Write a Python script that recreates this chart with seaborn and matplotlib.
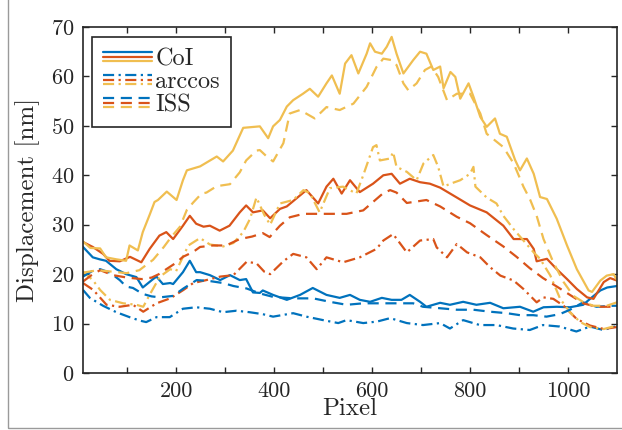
import numpy as np
import pandas as pd
import matplotlib
matplotlib.use("Agg")
import matplotlib.pyplot as plt
import seaborn as sns
from matplotlib.legend_handler import HandlerBase
from matplotlib.lines import Line2D
from matplotlib.patches import Rectangle

# ---------------- data ----------------
coi_blue_x = [10, 30, 44, 57, 78, 98, 119, 132, 153, 160, 173, 188, 194, 214, 228, 241, 249, 269, 290, 310, 330, 343, 357, 371, 377, 398, 426, 453, 479, 507, 534, 555, 575, 596, 620, 640, 660, 677, 698, 711, 739, 759, 786, 813, 841, 868, 902, 929, 950, 977, 1004, 1031, 1045, 1066, 1080, 1100]
coi_blue_y = [25.5, 23.4, 23.0, 22.7, 21.0, 20.0, 19.4, 17.3, 19.0, 19.5, 18.0, 18.2, 18.0, 20.4, 22.7, 20.4, 20.4, 19.8, 18.8, 19.8, 18.8, 19.0, 16.3, 16.2, 16.7, 15.8, 14.8, 15.8, 17.2, 15.8, 15.2, 15.8, 14.8, 14.4, 15.2, 14.8, 14.8, 15.8, 14.4, 13.4, 14.2, 13.8, 14.4, 13.8, 14.2, 13.1, 13.4, 12.4, 13.3, 13.4, 13.3, 13.8, 15.0, 16.7, 17.3, 17.6]

iss_blue_x = [10, 30, 45, 65, 85, 98, 112, 132, 150, 167, 194, 215, 242, 269, 296, 317, 344, 371, 398, 439, 480, 514, 548, 582, 650, 684, 704, 739, 773, 807, 841, 875, 902, 929, 956, 983, 1004, 1031, 1058, 1092, 1100]
iss_blue_y = [19.5, 20.7, 21.0, 20.3, 18.8, 17.5, 17.2, 16.0, 15.5, 15.3, 15.6, 17.1, 18.8, 18.6, 18.2, 17.6, 17.1, 16.1, 15.4, 15.1, 15.1, 14.4, 13.8, 14.1, 14.1, 14.1, 13.4, 13.1, 12.8, 12.8, 12.4, 12.1, 11.7, 11.7, 11.4, 11.9, 12.8, 14.3, 13.4, 13.6, 13.6]

arc_blue_x = [10, 24, 51, 78, 105, 126, 139, 160, 187, 214, 241, 269, 296, 323, 350, 377, 398, 439, 466, 500, 531, 548, 582, 610, 637, 671, 704, 739, 759, 786, 820, 854, 888, 922, 949, 983, 1017, 1045, 1072, 1096]
arc_blue_y = [16.8, 15.2, 13.6, 12.3, 11.3, 10.6, 10.3, 11.3, 11.3, 13.0, 13.3, 13.0, 12.3, 12.6, 12.3, 11.9, 11.4, 12.1, 11.4, 10.7, 10.1, 10.7, 10.1, 10.4, 11.1, 10.1, 9.7, 10.1, 9.0, 10.7, 9.7, 9.7, 9.0, 8.7, 9.7, 9.4, 8.4, 9.4, 8.7, 9.4]

coi_orange_x = [10, 30, 51, 64, 85, 106, 129, 146, 166, 180, 194, 214, 228, 241, 256, 269, 289, 309, 330, 343, 357, 377, 392, 412, 426, 466, 490, 507, 521, 538, 555, 575, 602, 623, 640, 657, 677, 698, 718, 739, 773, 800, 834, 868, 889, 916, 930, 936, 957, 977, 998, 1018, 1039, 1052, 1073, 1086, 1100]
coi_orange_y = [26.5, 25.5, 24.1, 22.7, 22.6, 23.5, 22.4, 25.1, 27.8, 28.5, 27.1, 29.8, 31.8, 30.2, 29.6, 29.8, 28.8, 29.8, 32.5, 33.9, 32.5, 32.9, 31.3, 33.2, 33.7, 37.0, 34.3, 37.7, 39.3, 36.3, 39.0, 36.6, 38.3, 40.0, 40.3, 38.3, 39.3, 38.6, 38.3, 37.5, 35.5, 33.9, 32.5, 29.8, 27.1, 27.1, 25.1, 22.6, 23.1, 21.0, 19.0, 17.0, 15.3, 15.0, 18.4, 19.2, 18.7]

iss_orange_x = [10, 30, 45, 71, 100, 130, 150, 165, 180, 200, 214, 235, 249, 275, 302, 330, 355, 377, 391, 412, 432, 460, 507, 548, 582, 602, 623, 637, 650, 671, 711, 739, 773, 800, 834, 868, 895, 922, 949, 977, 1004, 1031, 1058, 1092, 1100]
iss_orange_y = [18.5, 20.0, 20.8, 19.8, 19.3, 19.0, 19.3, 20.0, 21.0, 22.3, 23.5, 24.5, 25.5, 25.8, 25.8, 27.1, 27.6, 28.3, 27.5, 29.8, 31.5, 32.2, 32.2, 32.2, 32.9, 34.6, 36.4, 37.0, 36.5, 34.4, 35.0, 33.7, 31.6, 30.3, 27.9, 25.6, 23.5, 21.2, 19.2, 17.5, 15.8, 14.1, 13.4, 13.4, 13.5]

arc_orange_x = [10, 31, 58, 85, 112, 133, 160, 188, 215, 235, 262, 290, 317, 344, 364, 380, 392, 419, 439, 466, 487, 507, 541, 575, 609, 623, 643, 671, 698, 725, 732, 753, 773, 794, 821, 841, 862, 889, 909, 936, 950, 970, 991, 1018, 1045, 1073, 1100]
arc_orange_y = [18.2, 16.8, 13.8, 13.4, 13.8, 12.4, 14.1, 15.1, 16.8, 18.2, 18.8, 19.5, 19.8, 22.5, 22.2, 20.5, 20.0, 22.6, 24.1, 23.4, 21.0, 23.4, 22.4, 23.4, 25.1, 26.8, 28.1, 24.4, 26.8, 27.1, 25.4, 23.4, 26.1, 24.4, 23.4, 21.4, 19.7, 18.7, 17.0, 14.3, 15.3, 15.0, 13.6, 10.9, 9.6, 8.9, 9.3]

coi_yellow_x = [10, 25, 45, 57, 78, 98, 105, 122, 132, 146, 156, 163, 181, 201, 214, 222, 249, 283, 296, 316, 337, 371, 388, 398, 412, 426, 439, 459, 473, 490, 507, 518, 534, 545, 558, 572, 589, 596, 606, 620, 630, 640, 650, 664, 684, 698, 711, 725, 739, 746, 760, 770, 780, 797, 807, 821, 834, 851, 861, 875, 892, 902, 916, 930, 943, 957, 977, 998, 1018, 1042, 1049, 1066, 1079, 1093, 1100]
coi_yellow_y = [26.6, 25.3, 25.2, 23.4, 23.0, 22.7, 25.8, 24.8, 28.5, 32.0, 34.6, 35.0, 36.7, 35.0, 39.0, 41.0, 41.8, 43.8, 42.8, 45.0, 49.6, 49.9, 47.5, 49.9, 51.2, 53.9, 55.2, 56.5, 57.5, 55.9, 58.6, 60.2, 56.5, 62.6, 64.3, 60.6, 64.6, 66.7, 65.0, 64.6, 66.0, 68.0, 64.6, 60.6, 63.3, 65.0, 64.6, 61.3, 62.0, 57.6, 60.9, 59.9, 55.5, 58.6, 55.9, 51.8, 49.8, 51.5, 48.4, 47.8, 43.1, 41.0, 43.4, 40.3, 35.6, 35.2, 31.2, 25.8, 21.0, 16.7, 16.4, 18.7, 19.7, 20.0, 18.8]

iss_yellow_x = [10, 40, 70, 99, 125, 153, 175, 190, 208, 222, 235, 252, 262, 283, 310, 330, 343, 364, 371, 385, 398, 419, 432, 453, 483, 507, 534, 562, 589, 609, 623, 640, 650, 664, 674, 691, 708, 721, 735, 753, 773, 800, 821, 834, 868, 889, 909, 923, 936, 950, 970, 991, 1011, 1032, 1052, 1079, 1100]
iss_yellow_y = [20.3, 20.8, 20.5, 20.2, 20.8, 22.9, 25.5, 27.5, 29.6, 33.0, 34.5, 36.3, 36.5, 37.8, 38.2, 40.6, 43.0, 45.0, 45.1, 43.8, 42.8, 46.5, 52.5, 53.2, 51.5, 53.8, 53.2, 54.5, 57.9, 61.9, 63.6, 63.3, 62.3, 58.6, 57.2, 58.6, 61.3, 62.0, 59.9, 55.2, 56.5, 56.5, 52.5, 48.4, 45.7, 42.4, 37.7, 35.0, 31.8, 27.1, 22.4, 18.4, 15.6, 14.3, 13.6, 13.6, 14.3]

arc_yellow_x = [10, 30, 45, 65, 92, 119, 133, 147, 167, 188, 200, 214, 225, 249, 269, 296, 317, 337, 351, 364, 380, 392, 412, 439, 460, 473, 493, 514, 541, 568, 582, 602, 609, 616, 637, 643, 650, 671, 691, 705, 725, 735, 746, 760, 780, 800, 807, 811, 834, 854, 868, 889, 909, 930, 943, 964, 984, 1004, 1025, 1045, 1073, 1100]
arc_yellow_y = [20.5, 18.8, 16.8, 14.8, 14.1, 13.8, 13.4, 16.0, 19.5, 21.0, 20.6, 23.5, 25.8, 27.3, 26.0, 25.6, 26.3, 28.5, 31.2, 35.5, 32.0, 30.0, 34.3, 35.0, 37.0, 36.4, 32.5, 37.4, 37.7, 36.3, 40.0, 45.7, 46.1, 43.0, 43.4, 44.7, 41.7, 40.7, 39.0, 42.4, 44.1, 41.7, 37.7, 38.3, 39.0, 40.3, 41.7, 37.7, 35.5, 34.3, 31.8, 29.1, 26.8, 24.4, 23.1, 19.7, 15.0, 12.3, 10.3, 9.3, 8.9, 9.6]

methods = ["CoI", "arccos", "ISS"]
tone_names = ["blue", "orange", "yellow"]

# ---------------- build long-form table ----------------
series = {
    ("CoI", "blue"): (coi_blue_x, coi_blue_y),
    ("CoI", "orange"): (coi_orange_x, coi_orange_y),
    ("CoI", "yellow"): (coi_yellow_x, coi_yellow_y),
    ("arccos", "blue"): (arc_blue_x, arc_blue_y),
    ("arccos", "orange"): (arc_orange_x, arc_orange_y),
    ("arccos", "yellow"): (arc_yellow_x, arc_yellow_y),
    ("ISS", "blue"): (iss_blue_x, iss_blue_y),
    ("ISS", "orange"): (iss_orange_x, iss_orange_y),
    ("ISS", "yellow"): (iss_yellow_x, iss_yellow_y),
}
frames = []
for (m, t), (xs, ys) in series.items():
    frames.append(pd.DataFrame({"Pixel": xs, "Displacement": ys, "method": m, "tone": t}))
df = pd.concat(frames, ignore_index=True)

palette = {"blue": "#0072BD", "orange": "#D95319", "yellow": "#F0BE50"}
dash_map = {"CoI": "", "arccos": (5, 2, 1, 2), "ISS": (5, 3)}

# ---------------- plot ----------------
sns.set_style("ticks")
plt.rcParams["font.family"] = ["cmr10", "DejaVu Serif"]
plt.rcParams["mathtext.fontset"] = "cm"
plt.rcParams["axes.formatter.use_mathtext"] = True

W, H = 622, 430
fig = plt.figure(figsize=(W / 100, H / 100), dpi=100)
ax = fig.add_axes([83 / W, 1 - 373 / H, (617 - 83) / W, (373 - 27) / H])

for m in ["CoI", "arccos", "ISS"]:
    sub = df[df["method"] == m]
    sns.lineplot(data=sub, x="Pixel", y="Displacement", hue="tone",
                 hue_order=tone_names, palette=palette, style="method",
                 dashes={m: dash_map[m]}, estimator=None, sort=True,
                 legend=False, linewidth=1.6, ax=ax)

ax.set_xlim(10, 1100)
ax.set_ylim(0, 70)
ax.set_xticks(np.arange(100, 1001, 100))
ax.set_xticklabels(["" if v % 200 else str(v) for v in range(100, 1001, 100)])
ax.set_yticks(np.arange(0, 71, 10))
ax.set_xlabel("Pixel", fontsize=18, labelpad=-2)
ax.set_ylabel("Displacement [nm]", fontsize=18, labelpad=8)
ax.tick_params(direction="in", top=True, right=True, length=4, width=1,
               labelsize=16, colors="#262626", pad=6)
for s in ax.spines.values():
    s.set_visible(True)
    s.set_linewidth(1.2)
    s.set_color("#262626")


class TripleHandler(HandlerBase):
    def __init__(self, dashes):
        super().__init__()
        self.dashes = dashes

    def create_artists(self, legend, orig_handle, xdescent, ydescent,
                       width, height, fontsize, trans):
        arts = []
        yc = (height - ydescent) / 2
        for i, t in enumerate(tone_names):
            y = yc + (1 - i) * 3.4
            ln = Line2D([-xdescent, -xdescent + width], [y, y],
                        color=palette[t], lw=1.6)
            if self.dashes:
                ln.set_dashes(self.dashes)
            ln.set_transform(trans)
            arts.append(ln)
        return arts


handles = [Line2D([], []) for _ in methods]
hmap = {h: TripleHandler(dash_map[m] if dash_map[m] else None) for h, m in zip(handles, methods)}
leg = ax.legend(handles, methods, handler_map=hmap, loc="upper left",
                bbox_to_anchor=((92 - 83) / 534, (373 - 37) / 346),
                borderaxespad=0, fontsize=17.5, handlelength=2.0,
                handletextpad=0.15, labelspacing=0.04, borderpad=0.45,
                frameon=True, fancybox=False, framealpha=1)
leg.get_frame().set_edgecolor("#262626")
leg.get_frame().set_linewidth(1.2)

# outer border of the figure (visible on left and bottom)
fig.patches.append(Rectangle((8 / W, 2 / H), 2, 2, transform=fig.transFigure,
                             fill=False, edgecolor="#9a9a9a", lw=1.0))

fig.savefig("out.png", dpi=100)
